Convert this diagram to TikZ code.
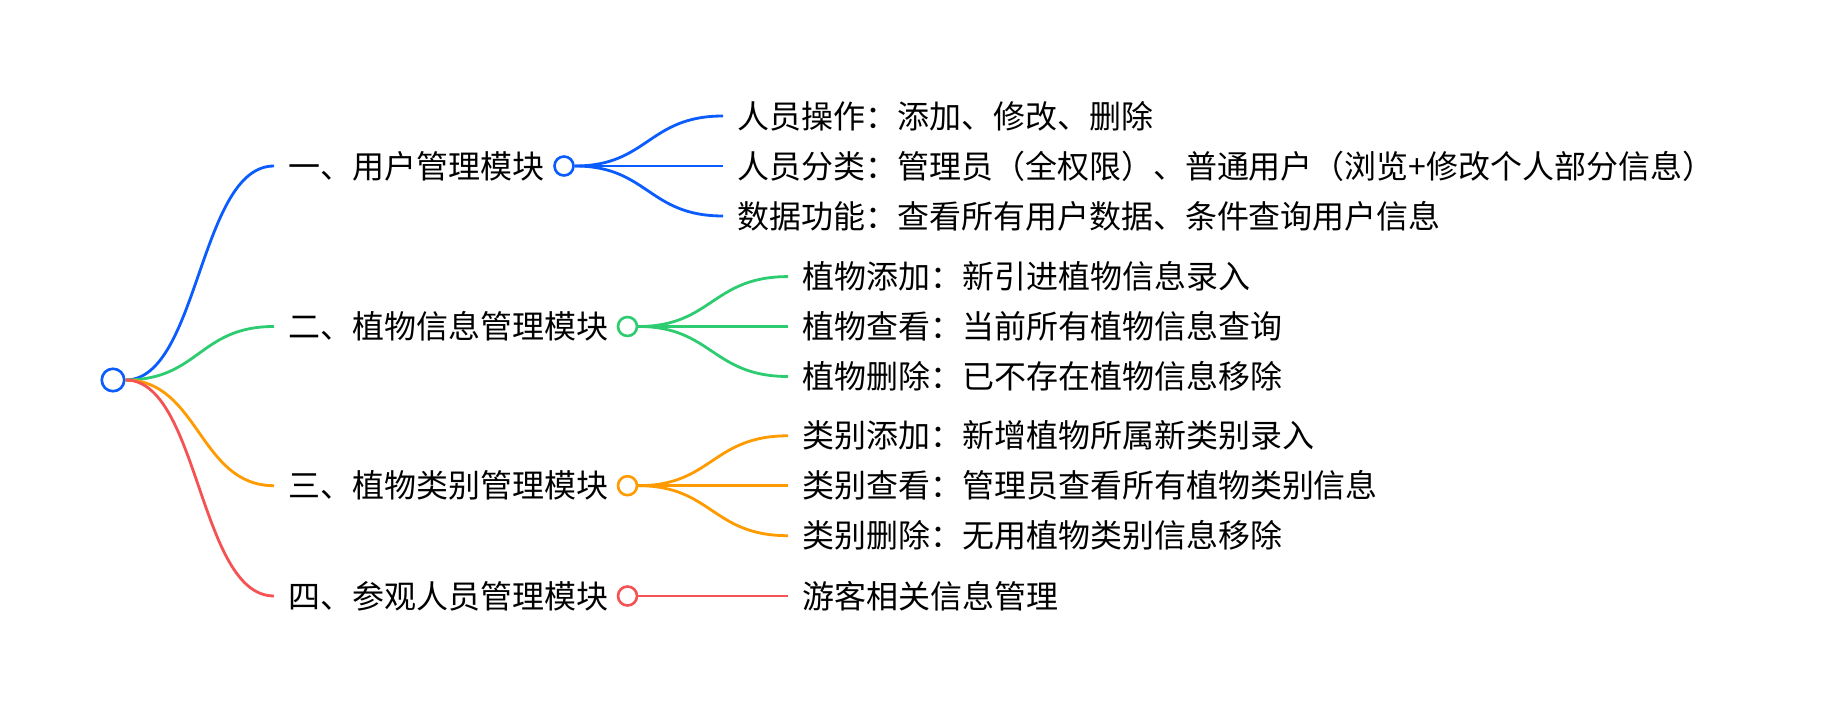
\documentclass[tikz,border=0pt]{standalone}
\usepackage{fontspec}
\setmainfont{Noto Sans CJK SC}
\usetikzlibrary{positioning}

\definecolor{mapblue}{HTML}{0B5CFF}
\definecolor{mapgreen}{HTML}{2ECC71}
\definecolor{maporange}{HTML}{FF9A00}
\definecolor{mapred}{HTML}{F55353}

\begin{document}
\begin{tikzpicture}[x=0.02cm,y=-0.02cm,
  dot/.style={circle,draw,fill=white,line width=1.5pt,minimum size=0.38cm,inner sep=0pt},
  rootdot/.style={dot,minimum size=0.45cm},
  topic/.style={anchor=west,inner xsep=0.28cm,inner ysep=0pt,font=\fontsize{18.2}{22}\selectfont},
  link/.style={line width=1.6pt}]
\useasboundingbox (0,0) rectangle (1822,712);
% root
\node[rootdot,draw=mapblue] (root) at (113,380) {};
% modules
\node[topic] (m1) at (274,166) {一、用户管理模块};
\node[topic] (m2) at (274,326.5) {二、植物信息管理模块};
\node[topic] (m3) at (274,485.7) {三、植物类别管理模块};
\node[topic] (m4) at (274,596) {四、参观人员管理模块};
\draw[link,mapblue] (root.east) .. controls (199,380) and (199,166) .. (m1.west);
\draw[link,mapgreen] (root.east) .. controls (199,380) and (199,326.5) .. (m2.west);
\draw[link,maporange] (root.east) .. controls (199,380) and (199,485.7) .. (m3.west);
\draw[link,mapred] (root.east) .. controls (199,380) and (199,596) .. (m4.west);
\node[dot,draw=mapblue] (d1) at (564,166) {};
\node[dot,draw=mapgreen] (d2) at (627.5,326.5) {};
\node[dot,draw=maporange] (d3) at (627.5,485.7) {};
\node[dot,draw=mapred] (d4) at (627.5,596) {};
% user management
\node[topic] (m1a) at (723,116) {人员操作：添加、修改、删除};
\node[topic] (m1b) at (723,166) {人员分类：管理员（全权限）、普通用户（浏览+修改个人部分信息）};
\node[topic] (m1c) at (723,216) {数据功能：查看所有用户数据、条件查询用户信息};
\draw[link,mapblue] (d1.east) .. controls (648,166) and (648,116) .. (m1a.west);
\draw[link,mapblue] (d1.east) -- (m1b.west);
\draw[link,mapblue] (d1.east) .. controls (648,166) and (648,216) .. (m1c.west);
% plant info
\node[topic] (m2a) at (788,276.6) {植物添加：新引进植物信息录入};
\node[topic] (m2b) at (788,326.5) {植物查看：当前所有植物信息查询};
\node[topic] (m2c) at (788,376.5) {植物删除：已不存在植物信息移除};
\draw[link,mapgreen] (d2.east) .. controls (712,326.5) and (712,276.6) .. (m2a.west);
\draw[link,mapgreen] (d2.east) -- (m2b.west);
\draw[link,mapgreen] (d2.east) .. controls (712,326.5) and (712,376.5) .. (m2c.west);
% plant category
\node[topic] (m3a) at (788,435.8) {类别添加：新增植物所属新类别录入};
\node[topic] (m3b) at (788,485.7) {类别查看：管理员查看所有植物类别信息};
\node[topic] (m3c) at (788,535.7) {类别删除：无用植物类别信息移除};
\draw[link,maporange] (d3.east) .. controls (712,485.7) and (712,435.8) .. (m3a.west);
\draw[link,maporange] (d3.east) -- (m3b.west);
\draw[link,maporange] (d3.east) .. controls (712,485.7) and (712,535.7) .. (m3c.west);
% visitors
\node[topic] (m4a) at (788,596) {游客相关信息管理};
\draw[link,mapred] (d4.east) -- (m4a.west);
\end{tikzpicture}
\end{document}
